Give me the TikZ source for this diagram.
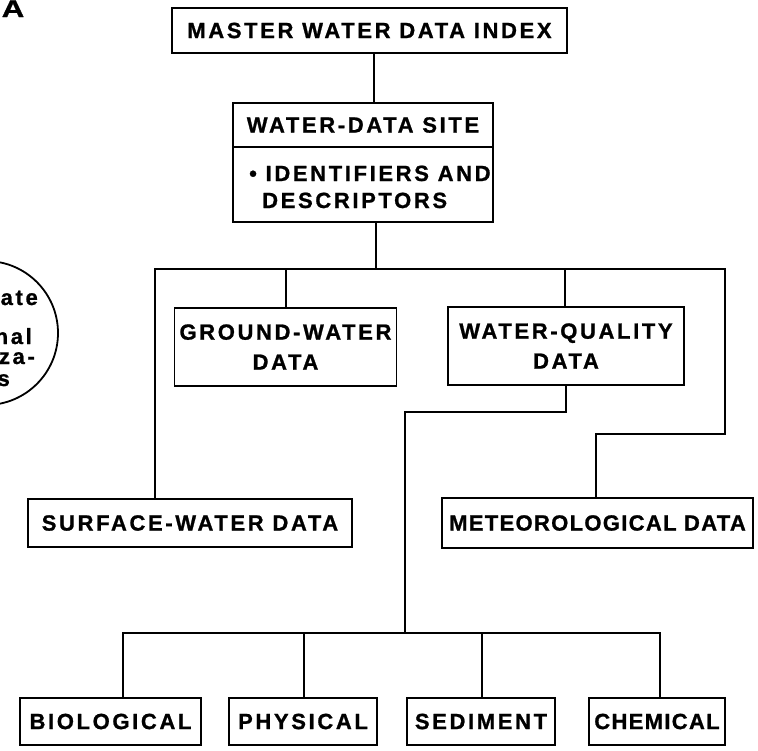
\documentclass[tikz,border=0pt]{standalone}
\usepackage{fontspec}
\setmainfont{Liberation Sans}[FakeBold=1]
\newfontfamily\lblfont{Liberation Sans}[LetterSpace=12, FakeBold=1]
\newfontfamily\narrowlbl{Liberation Sans}[LetterSpace=6, FakeBold=1]
\begin{document}
\begin{tikzpicture}[x=1pt, y=-1pt,
  txt/.style={inner sep=0pt, font=\lblfont\bfseries\fontsize{22}{30}\selectfont},
  tighttxt/.style={font=\narrowlbl\bfseries\fontsize{22}{30}\selectfont},
  box/.style={txt, draw, line width=1.8pt, align=center},
  link/.style={line width=1.5pt, line join=miter}]
\useasboundingbox (0,0) rectangle (758,750);
\clip (0,0) rectangle (758,750);

% panel letter
\node[inner sep=0pt, anchor=base, font=\bfseries\fontsize{24}{24}\selectfont, xscale=1.3] (panel) at (13,17) {A};

% partly visible circle at the left edge
\node[draw, circle, line width=1.8pt, minimum size=144pt, inner sep=0pt] (agency) at (-14,333) {};
\node[txt, anchor=base east] (ag1) at (38,305) {ate};
\node[txt, anchor=base east] (ag2) at (32,344) {nal};
\node[txt, anchor=base east] (ag3) at (35,364) {za-};
\node[txt, anchor=base east] (ag4) at (10,386) {s};

% top of the hierarchy
\node[box, minimum width=395pt, minimum height=45pt] (master) at (369.5,30.5) {MASTER WATER DATA INDEX};

\node[box, minimum width=260pt, minimum height=119pt] (site) at (363,162.5) {};
\draw[line width=1.5pt] (site.west |- 0,147) -- (site.east |- 0,147);
\node[txt] (sitehead) at (363,125) {WATER-DATA SITE};
\node[txt, anchor=base west] (sitea) at (249,181) {\textbullet\ IDENTIFIERS AND};
\node[txt, anchor=base west] (siteb) at (262,208) {DESCRIPTORS};

% second level
\node[box, minimum width=222pt, minimum height=78pt] (ground) at (285.5,347) {GROUND-WATER\\DATA};
\node[box, minimum width=236pt, minimum height=78pt] (quality) at (566,346) {WATER-QUALITY\\DATA};
\node[box, minimum width=324pt, minimum height=48pt] (surface) at (190,523) {SURFACE-WATER DATA};
\node[box, tighttxt, minimum width=311pt, minimum height=50pt] (meteo) at (597.5,523) {METEOROLOGICAL DATA};

% water-quality categories
\node[box, minimum width=181pt, minimum height=47pt] (bio) at (110.5,721.5) {BIOLOGICAL};
\node[box, minimum width=148pt, minimum height=47pt] (phys) at (303,721.5) {PHYSICAL};
\node[box, minimum width=148pt, minimum height=47pt] (sed) at (481,721.5) {SEDIMENT};
\node[box, tighttxt, minimum width=136pt, minimum height=47pt] (chem) at (657,721.5) {CHEMICAL};

% junction points
\coordinate (xm) at (374,0);
\coordinate (jtop) at (376,269);
\coordinate (barL) at (155,269);
\coordinate (barR) at (725,269);
\coordinate (jg) at (286,269);
\coordinate (jq) at (565,269);
\coordinate (rturn) at (725,434);
\coordinate (rdrop) at (596,434);
\coordinate (qturn) at (566,412);
\coordinate (qdrop) at (405,412);
\coordinate (jb) at (405,633);
\coordinate (bL) at (123,633);
\coordinate (bR) at (660,633);
\coordinate (xp) at (304,0);
\coordinate (xs) at (482,0);

% connectors
\draw[link] (master.south -| xm) -- (site.north -| xm);
\draw[link] (site.south -| jtop) -- (jtop);
\draw[link] (surface.north -| barL) -- (barL) -- (barR) -- (rturn) -- (rdrop) -- (meteo.north -| rdrop);
\draw[link] (jg) -- (ground.north -| jg);
\draw[link] (jq) -- (quality.north -| jq);
\draw[link] (quality.south -| qturn) -- (qturn) -- (qdrop) -- (jb);
\draw[link] (bio.north -| bL) -- (bL) -- (bR) -- (chem.north -| bR);
\draw[link] (xp |- bL) -- (phys.north -| xp);
\draw[link] (xs |- bL) -- (sed.north -| xs);
\end{tikzpicture}
\end{document}
